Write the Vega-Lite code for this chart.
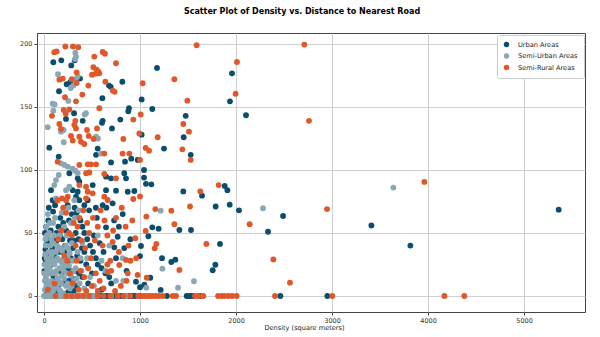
{
"$schema":"https://vega.github.io/schema/vega-lite/v6.json",
"width":548,"height":279,
"autosize":{"type":"none"},
"padding":{"left":37,"top":33,"right":15,"bottom":25},
"background":"white",
"config":{"font":"DejaVu Sans","view":{"stroke":"#444","strokeWidth":1}},
"title":{"text":"Scatter Plot of Density vs. Distance to Nearest Road","fontSize":8,"fontWeight":"bold","font":"DejaVu Sans","color":"#000","anchor":"middle","frame":"group","dx":-9,"offset":17},
"datasets":{
"urban":[[1177,181],[1958,176.7],[1017,156],[1937,154.5],[1128,148.4],[1476,143],[2104,143.4],[1017,128],[1455,126],[1250,117],[1528,112],[1042,100],[1042,94],[1062,89],[1118,88.6],[1451,83],[1646,79.6],[1882,87.3],[1910,84],[1788,71],[1934,72.5],[2031,68],[2333,51],[1128,54.5],[1194,53.4],[1410,52.4],[1531,52.4],[1087,47.4],[1833,41.3],[1010,39.7],[1000,31.7],[1229,30],[1326,27],[1368,28.8],[1785,24.8],[1757,20.4],[1107,14.5],[1000,7],[1215,4.8],[2490,63.5],[3410,56],[3816,40],[5361,68.5],
[97,185.5],[180,187],[284,183],[320,187],[375,172.5],[236,168],[274,169.6],[677,167],[695,166],[816,170],[156,162.5],[608,157],[313,145],[885,149],[878,146.6],[229,140.5],[403,139],[611,139],[795,140],
[604,137.5],[708,133],[55,117.7],[153,110.6],[559,117],[542,112],[844,106.6],[909,109],[976,108],[264,97.4],[698,106],[646,94.7],[698,93.4],[836,97.4],[854,93.4],[351,93.4],[368,90.7],[507,88],[299,84],[351,82.7],[333,78.8],[368,76],[646,84],[750,83.6],[872,82.7],[941,83.3],[90,76],[73,84],[247,72],[420,72],[455,76],[715,73.5],[611,72],
[646,54.5],[767,47],[836,38],[732,38.6],[958,11.4],[1045,9],[750,30],
[20,40],[35,42],[15,37],[60,33],[90,30],[110,45],[130,50],[150,55],[170,62],[200,58],[230,52],[260,60],[290,65],[320,70],[340,66],[380,60],[400,55],[420,50],[450,45],[480,40],[510,35],[540,30],[560,25],[600,22],[640,18],[680,15],[20,12],[40,8],[60,18],[80,25],[100,15],[120,5],[140,20],[160,35],[180,28],[200,10],[220,40],[240,22],[260,12],[280,30],[300,38],[320,20],[340,8],[360,45],[380,28],[400,15],[420,35],[440,25],[460,10],[500,18],[520,48],[550,62],[580,42],[620,35],[700,10],[730,60],[780,55],[820,65],[860,20],[900,45],[250,3],[310,4],[30,2],[75,5],[150,3],[170,10],[190,45],[270,44],[330,50],[470,68],[540,70],[600,5],[650,70],[10,50],[45,60],[70,52],[95,67],
[5,20],[18,28],[28,18],[50,45],[65,25],[85,38],[105,32],[125,42],[145,8],[165,48],[185,18],[210,35],[225,12],[255,28],[275,20],[295,14],[315,44],[345,32],[365,18],[395,38],[22,55],[50,70],[115,72],[8,30],
[10,0],[40,0],[70,0],[100,0],[140,0],[160,0],[190,0],[215,0],[250,0],[275,0],[300,0],[330,0],[360,0],[395,0],[420,0],[460,0],[480,0],[510,0],[540,0],[575,0],[600,0],[625,0],[650,0],[680,0],[720,0],[760,0],[800,0],[840,0],[880,0],[920,0],[950,0],[1000,0],[1280,0],[1486,0],[1510,0],[1530,0],[1555,0],[1625,0],[2462,0],[2951,0]],
"semiurban":[[2281,69.6],[1215,67.7],[1233,21.7],[1562,11.7],[1396,6.6],[1066,6.6],[3639,86],
[326,193],[333,190],[323,188],[146,176],[351,174.4],[333,172.2],[278,165],[305,167],[253,154.8],[90,152.6],[111,152],[97,147],[424,144],[437,145],
[38,134],[177,130.4],[205,131.7],[205,122],[542,126.4],[562,125],[594,113],[177,105.3],[212,104],[247,102.6],[299,101],[326,99.4],[351,97.4],[153,96],[125,92],[107,88],[264,86.7],[229,84],[125,77.5],[316,76],[826,12],
[10,5],[20,15],[30,22],[40,28],[50,10],[60,3],[70,20],[80,12],[90,35],[100,5],[110,25],[120,18],[130,8],[140,30],[150,12],[160,22],[170,4],[180,16],[190,26],[200,2],[210,14],[220,30],[230,8],[240,18],[250,38],[260,24],[270,6],[280,16],[290,42],[300,28],[310,12],[330,22],[350,35],[370,10],[390,20],[420,6],[450,30],[480,15],[520,8],[600,28],[680,40],[750,12],[15,45],[25,55],[40,65],[55,50],[75,45],[95,58],[115,62],[135,40],[160,48],[185,66],[210,55],[235,48],[255,70],[280,58],[320,62],[360,68],[5,25],[12,33],[35,5],[65,40],[85,28],[105,48],[125,35],[45,18],[25,8],[175,38],[205,20],[245,10],[560,48],[640,20],[820,30],
[8,12],[18,40],[28,30],[38,12],[48,35],[58,25],[68,8],[78,32],[88,18],[98,42],[108,8],[118,28],[128,20],[138,14],[148,38],[158,5],[168,28],[178,10],[188,36],[198,22],[218,24],[228,40],[248,30],[268,34],[288,8],[305,20],[340,14],[380,30],[400,42],[60,58],[30,48],[2,18],
[0,0],[25,0],[45,0],[55,0],[70,0],[85,0],[100,0],[115,0],[135,0],[160,0],[180,0],[210,0],[240,0],[270,0],[300,0],[330,0],[360,0],[390,0],[420,0],[450,0],[490,0],[520,0],[560,0],[700,0],[850,0]],
"rural":[[2711,199.5],[2760,139],[2948,69],[3962,90.5],[2389,29],[2562,10.6],[1590,199],[2010,185.7],[1028,168.8],[1358,172],[1996,160.5],[1493,155],[1007,144],[1451,136.5],[1510,130.4],[1184,126],[1059,117.5],[1094,115.3],[1441,116.4],[1528,108],[1000,108],[1000,79],[1628,83],[1819,88],[1521,71],[1326,67.7],[1159,69],[1066,63],[1358,57],[2142,57],[1059,51.6],[1691,41.3],[1170,41.3],[1153,37.8],[1410,20.6],[1070,14.5],
[107,193.5],[132,194],[222,198],[302,198],[357,197.4],[524,190],[611,193.6],[635,192.3],[750,184.7],[514,181.5],[549,179.6],[538,176.4],[500,175.6],[566,178],[576,176.7],[340,177.5],[160,171.7],[195,172.5],[288,172],[340,169],[462,167],[639,170],[716,163],[736,162],[399,159.8],[219,157.7],[333,154.5],[205,147.6],[226,144.7],[264,148],[576,149],[930,140],[83,143],[326,139],
[160,136.5],[177,132.5],[316,135.7],[333,133],[281,127],[299,123.3],[368,126.4],[385,122.4],[420,120.6],[448,131.7],[465,127],[552,133],[517,124.6],[826,124.6],[993,129],[142,106.6],[628,113],[819,113],[889,113],[368,104],[455,104.5],[490,104.5],[542,104.5],[438,97.4],[472,98],[628,96.8],[750,93.4],[368,88],[438,86.7],[455,82.7],[507,81.5],[438,77.5],[628,78.8],[663,76.2],[930,77],[142,76],[188,77.5],[229,76],[247,78.8],
[951,45.8],[715,43],[663,19.3],[975,16.7],[872,18],[854,28.6],[784,24.6],
[200,70],[230,66],[260,50],[290,48],[310,58],[330,40],[350,55],[370,62],[390,44],[410,68],[430,38],[450,58],[470,50],[490,30],[510,62],[530,44],[560,55],[590,68],[610,40],[630,60],[660,48],[690,28],[720,52],[750,62],[780,35],[810,70],[850,55],[880,40],[920,60],[960,30],[150,45],[180,52],[210,32],[240,28],[270,18],[300,10],[340,28],[380,20],[420,15],[460,22],[500,8],[540,18],[580,12],[620,6],[660,25],[700,20],[740,4],[800,8],[40,5],[110,10],[360,5],[440,4],[560,4],[860,12],[900,28],
[120,0],[230,0],[290,0],[350,0],[405,0],[470,0],[560,0],[620,0],[690,0],[770,0],[830,0],[900,0],[980,0],[1017,0],[1045,0],[1075,0],[1100,0],[1130,0],[1160,0],[1195,0],[1236,0],[1340,0],[1375,0],[1573,0],[1608,0],[1660,0],[1813,0],[1850,0],[1880,0],[1920,0],[1960,0],[2007,0],[2406,0],[3003,0],[4170,0],[4378,0]]
},
"layer":[
{"data":{"name":"urban"},"transform":[{"calculate":"datum[0]","as":"density"},{"calculate":"datum[1]","as":"distance"},{"calculate":"'Urban Areas'","as":"area"}],
"mark":{"type":"circle","size":34,"opacity":1},
"encoding":{
"x":{"field":"density","type":"quantitative","scale":{"domain":[-73,5635],"nice":false,"zero":false},"axis":{"values":[0,1000,2000,3000,4000,5000],"format":"d","title":"Density (square meters)","titleFontSize":6.6,"titleFontWeight":"normal","titleColor":"#222","titleX":267,"titleY":12,"titleBaseline":"top","labelFontSize":6.5,"labelColor":"#333","tickColor":"#444","tickSize":3,"domain":false,"gridColor":"#d0d0d0","labelPadding":2}},
"y":{"field":"distance","type":"quantitative","scale":{"domain":[-12.7,208.7],"nice":false,"zero":false},"axis":{"values":[0,25,50,75,100,125,150,175,200],"format":"d","title":null,"labelFontSize":6.5,"labelColor":"#333","tickColor":"#444","tickSize":3,"domain":false,"gridColor":"#d0d0d0","labelPadding":2}},
"color":{"field":"area","type":"nominal","scale":{"domain":["Urban Areas","Semi-Urban Areas","Semi-Rural Areas"],"range":["#0b4d6c","#8aa7b3","#e0582a"]},
"legend":{"title":null,"orient":"none","legendX":460,"legendY":2,"fillColor":"white","strokeColor":"#ccc","padding":6,"cornerRadius":2,"labelFontSize":6.6,"labelColor":"#222","labelOffset":8,"symbolType":"circle","symbolSize":30,"rowPadding":3.5}}
}},
{"data":{"name":"semiurban"},"transform":[{"calculate":"datum[0]","as":"density"},{"calculate":"datum[1]","as":"distance"},{"calculate":"'Semi-Urban Areas'","as":"area"}],
"mark":{"type":"circle","size":34,"opacity":1},
"encoding":{"x":{"field":"density","type":"quantitative"},"y":{"field":"distance","type":"quantitative"},"color":{"field":"area","type":"nominal"}}},
{"data":{"name":"rural"},"transform":[{"calculate":"datum[0]","as":"density"},{"calculate":"datum[1]","as":"distance"},{"calculate":"'Semi-Rural Areas'","as":"area"}],
"mark":{"type":"circle","size":34,"opacity":1},
"encoding":{"x":{"field":"density","type":"quantitative"},"y":{"field":"distance","type":"quantitative"},"color":{"field":"area","type":"nominal"}}}
]
}
